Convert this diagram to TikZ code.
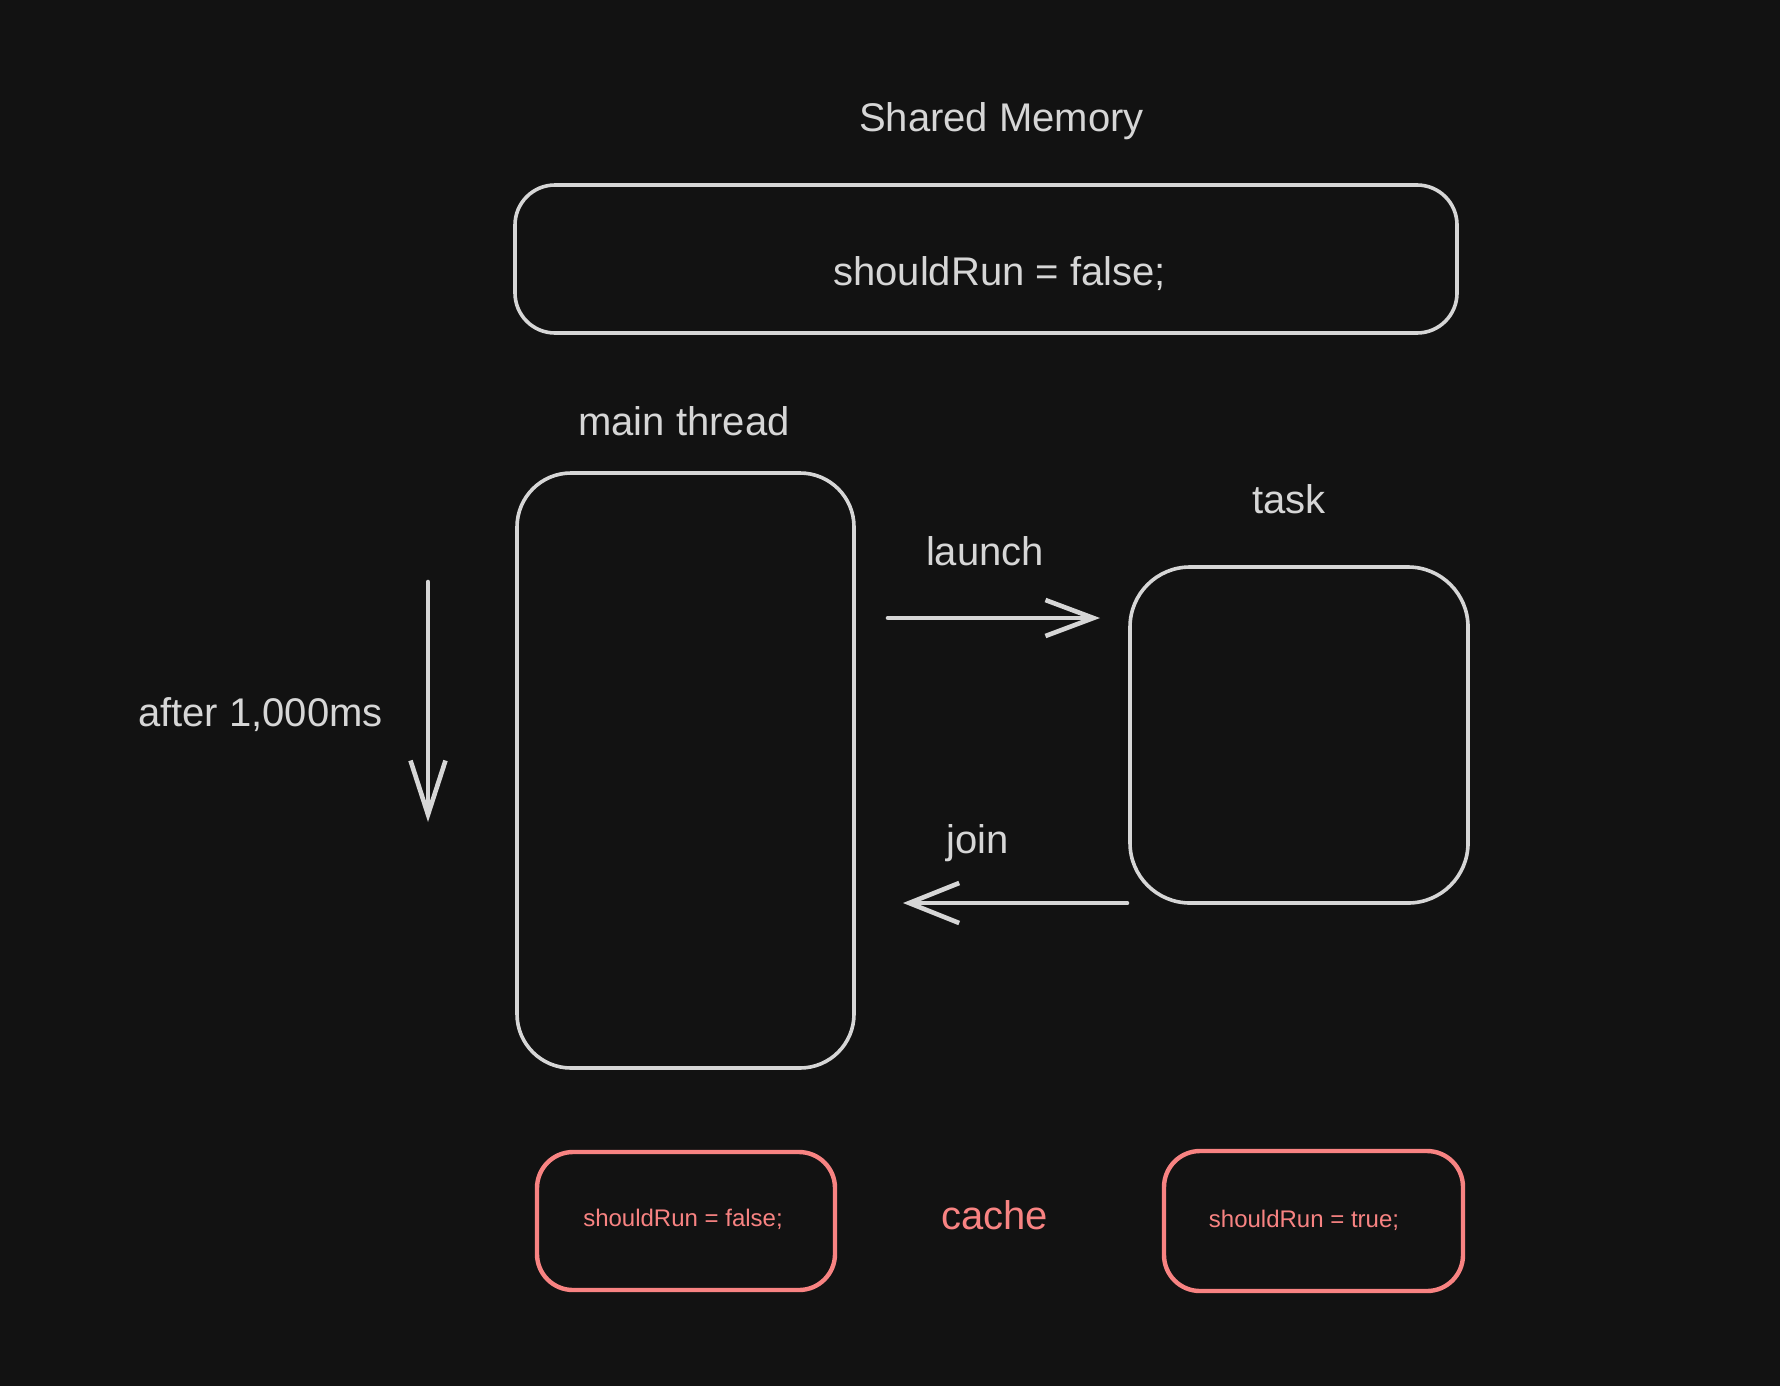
\documentclass[tikz,border=0pt]{standalone}
\usepackage{fontspec}
\setmainfont{Liberation Sans}
\usepackage{xcolor}
\usetikzlibrary{arrows.meta}

\definecolor{bgdark}{HTML}{121212}
\definecolor{chalk}{HTML}{D6D6D6}
\definecolor{cachered}{HTML}{F88382}

\begin{document}
\begin{tikzpicture}[x=0.5pt,y=0.5pt,yscale=-1,xscale=1,
    box/.style={draw=chalk, line width=1.8pt, inner sep=0pt, outer sep=0pt},
    cachebox/.style={draw=cachered, line width=2.2pt, rounded corners=18pt, inner sep=0pt, outer sep=0pt},
    bigtext/.style={anchor=base, inner sep=0pt, text=chalk, font=\fontsize{20}{24}\selectfont},
    smalltext/.style={anchor=base, inner sep=0pt, text=cachered, font=\fontsize{12}{14}\selectfont},
    barb/.style={draw=chalk, line width=2.3pt, line cap=round}]
                    % Background
                    \fill [bgdark] (0,0) rectangle (1780,1386);
                    \useasboundingbox (0,0) rectangle (1780,1386);

                    %Shape: Rounded Rect [id:sharedbox]
                    \node [box, rounded corners=20pt, minimum width=471pt, minimum height=74pt] (sharedbox) at (986,259) {};
                    %Shape: Rounded Rect [id:mainbox]
                    \node [box, rounded corners=27pt, minimum width=168.5pt, minimum height=297.5pt] (mainbox) at (685.5,770.5) {};
                    %Shape: Rounded Rect [id:taskbox]
                    \node [box, rounded corners=30pt, minimum width=169pt, minimum height=168pt] (taskbox) at (1299,735) {};
                    %Shape: Rounded Rect [id:cachemain]
                    \node [cachebox, minimum width=149pt, minimum height=69pt] (cachemain) at (686,1221) {};
                    %Shape: Rounded Rect [id:cachetask]
                    \node [cachebox, minimum width=149.5pt, minimum height=70pt] (cachetask) at (1313.5,1221) {};

                    % Arrow ends
                    \coordinate (launchfrom) at (888,618);
                    \coordinate (launchto) at (1100,618);
                    \coordinate (joinfrom) at (1127,903);
                    \coordinate (jointo) at (903,903);
                    \coordinate (timefrom) at (428,582);
                    \coordinate (timeto) at (428,822);

                    %Straight Lines [id:launch]
                    \draw [barb, -{Straight Barb[length=24pt, width=18pt, line width=2.3pt]}] (launchfrom) -- (launchto);
                    %Straight Lines [id:join]
                    \draw [barb, -{Straight Barb[length=25pt, width=20pt, line width=2.3pt]}] (joinfrom) -- (jointo);
                    %Straight Lines [id:time]
                    \draw [barb, -{Straight Barb[length=27pt, width=17.5pt, line width=2.3pt]}] (timefrom) -- (timeto);

                    % Text Node
                    \node [bigtext] (sharedlabel) at (1001.5,132) {Shared Memory};
                    % Text Node
                    \node [bigtext] (sharedvalue) at (999.5,285) {shouldRun = false;};
                    % Text Node
                    \node [bigtext] (mainlabel) at (684,435) {main thread};
                    % Text Node
                    \node [bigtext] (tasklabel) at (1289,513) {task};
                    % Text Node
                    \node [bigtext] (launchlabel) at (985,565) {launch};
                    % Text Node
                    \node [bigtext] (joinlabel) at (977.5,853) {join};
                    % Text Node
                    \node [bigtext] (timelabel) at (260.5,726) {after 1,000ms};
                    % Text Node
                    \node [bigtext, text=cachered] (cachelabel) at (994.5,1229) {cache};
                    % Text Node
                    \node [smalltext] (cachemainvalue) at (683,1226) {shouldRun = false;};
                    % Text Node
                    \node [smalltext] (cachetaskvalue) at (1304,1227) {shouldRun = true;};
\end{tikzpicture}
\end{document}
